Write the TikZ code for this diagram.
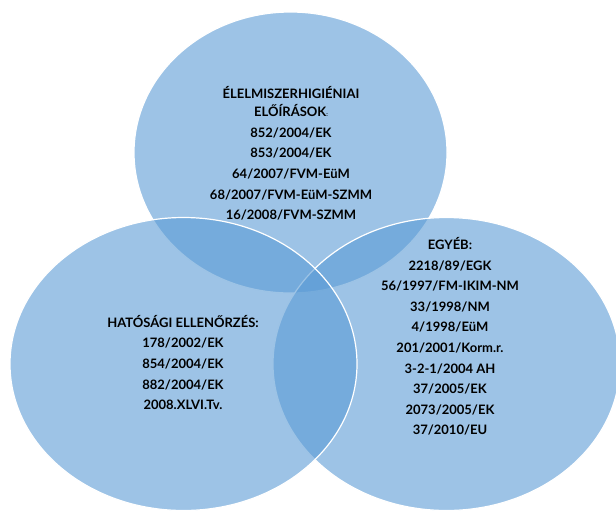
\documentclass[tikz,border=0pt]{standalone}
\usepackage{fontspec}
\setmainfont{Lato}
\usepackage{tikz}
\definecolor{vennblue}{HTML}{5B9BD5}
\tikzset{venn/.style={fill=vennblue, fill opacity=0.6, draw=white, line width=1.2pt},
         lst/.style={align=center, font=\bfseries\fontsize{13}{20.6}\selectfont, text=black, inner sep=0pt}}

\begin{document}
\begin{tikzpicture}[x=1pt,y=-1pt]
\useasboundingbox (0,0) rectangle (616,512);
% the three sets, top one first
\draw[venn] (290.5,152.5) ellipse [x radius=156.5, y radius=140.5];
\draw[venn] (446.5,364) ellipse [x radius=173.5, y radius=146.5];
\draw[venn] (183.5,364) ellipse [x radius=173.5, y radius=146.5];
% texts
\node[lst] (rules) at (291,153.4) {ÉLELMISZERHIGIÉNIAI\\[-2.6pt]ELŐÍRÁSOK{\fontsize{6}{6}\selectfont:}\\852/2004/EK\\853/2004/EK\\64/2007/FVM-EüM\\68/2007/FVM-EüM-SZMM\\16/2008/FVM-SZMM};
\node[lst] (control) at (183,362.4) {HATÓSÁGI ELLENŐRZÉS:\\178/2002/EK\\854/2004/EK\\882/2004/EK\\2008.XLVI.Tv.};
\node[lst] (other) at (450,336.5) {EGYÉB:\\2218/89/EGK\\56/1997/FM-IKIM-NM\\33/1998/NM\\4/1998/EüM\\201/2001/Korm.r.\\3-2-1/2004 AH\\37/2005/EK\\2073/2005/EK\\37/2010/EU};
\end{tikzpicture}
\end{document}
